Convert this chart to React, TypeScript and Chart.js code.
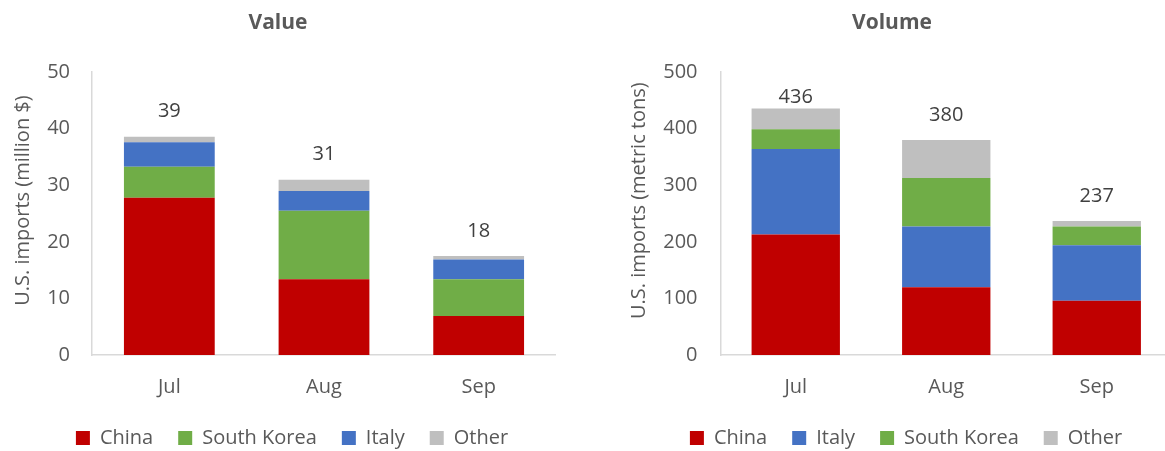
import React, { useEffect, useRef } from "react";
import { Chart, registerables } from "chart.js";

Chart.register(...registerables);

// ---- Data ----
const months = ["Jul", "Aug", "Sep"];

// Value chart (million $)
const valueChina = [27.8, 13.4, 6.9];
const valueSouthKorea = [5.5, 12.1, 6.5];
const valueItaly = [4.3, 3.5, 3.5];
const valueOther = [1.0, 2.0, 0.6];
const valueTotals = [39, 31, 18];
const valueTicks = { min: 0, max: 50, step: 10 };

// Volume chart (metric tons)
const volumeChina = [213, 120, 96];
const volumeItaly = [151, 107, 98];
const volumeSouthKorea = [35, 86, 33];
const volumeOther = [37, 67, 10];
const volumeTotals = [436, 380, 237];
const volumeTicks = { min: 0, max: 500, step: 100 };

// ---- Style ----
const FONT = "'Open Sans', sans-serif";
const TEXT = "#595959";
const AXIS = "#D9D9D9";
const RED = "#C00000";
const GREEN = "#70AD47";
const BLUE = "#4472C4";
const GRAY = "#BFBFBF";

const totalsPlugin = {
  id: "totals",
  afterDatasetsDraw(chart: any, _args: any, opts: any) {
    const labels: number[] = (opts && opts.labels) || [];
    if (!labels.length) return;
    const { ctx, chartArea } = chart;
    ctx.save();
    ctx.font = `20px ${FONT}`;
    ctx.fillStyle = "#404040";
    ctx.textAlign = "center";
    ctx.textBaseline = "middle";
    labels.forEach((lab, j) => {
      let top = Infinity;
      let x = 0;
      chart.data.datasets.forEach((_d: any, i: number) => {
        const el = chart.getDatasetMeta(i).data[j];
        if (el && el.y < top) {
          top = el.y;
          x = el.x;
        }
      });
      const y = Math.max(top - 25, chartArea.top + 25.5);
      ctx.fillText(String(lab), x, y);
    });
    ctx.restore();
  },
};

// Draws the vertical axis title, a little above the plot's middle (as in the reference)
const axisTitlePlugin = {
  id: "axisTitle",
  afterDraw(chart: any, _args: any, opts: any) {
    if (!opts || !opts.text) return;
    const { ctx, chartArea } = chart;
    ctx.save();
    ctx.font = `20px ${FONT}`;
    ctx.fillStyle = TEXT;
    ctx.textAlign = "center";
    ctx.textBaseline = "middle";
    ctx.translate(opts.x, (chartArea.top + chartArea.bottom) / 2 - 13);
    ctx.rotate(-Math.PI / 2);
    ctx.fillText(opts.text, 0, 0);
    ctx.restore();
  },
};

const legendShiftPlugin = {
  id: "legendShift",
  afterLayout(chart: any, _args: any, opts: any) {
    if (chart.legend && opts && opts.shift) {
      chart.legend.left += opts.shift;
    }
  },
};

type PanelProps = {
  title: string;
  yTitle: string;
  series: { label: string; data: number[]; color: string }[];
  totals: number[];
  ticks: { min: number; max: number; step: number };
  left: number;
  width: number;
  yWidth: number;
  yTickPad: number;
  yTitleX: number;
};

function Panel(p: PanelProps) {
  const ref = useRef<HTMLCanvasElement | null>(null);
  useEffect(() => {
    if (!ref.current) return;
    const chart = new Chart(ref.current, {
      type: "bar",
      data: {
        labels: months,
        datasets: p.series.map((s) => ({
          label: s.label,
          data: s.data,
          backgroundColor: s.color,
          borderWidth: 0,
          barPercentage: 0.587,
          categoryPercentage: 1,
        })),
      },
      plugins: [totalsPlugin, axisTitlePlugin, legendShiftPlugin],
      options: {
        responsive: false,
        animation: false,
        events: [],
        layout: { padding: 0 },
        scales: {
          x: {
            stacked: true,
            grid: { display: false, drawTicks: false },
            border: { display: true, color: AXIS, width: 1.5 },
            ticks: { font: { family: FONT, size: 20 }, color: TEXT, padding: 20 },
            afterFit: (s: any) => {
              s.height = 48;
            },
          },
          y: {
            stacked: true,
            min: p.ticks.min,
            max: p.ticks.max,
            grid: { display: false, drawTicks: false },
            border: { display: true, color: AXIS, width: 1.5 },
            ticks: {
              stepSize: p.ticks.step,
              font: { family: FONT, size: 20 },
              color: TEXT,
              padding: p.yTickPad,
            },
            afterFit: (s: any) => {
              s.width = p.yWidth;
            },
          },
        },
        plugins: {
          title: {
            display: true,
            text: p.title,
            font: { family: FONT, size: 21, weight: "bold" },
            color: TEXT,
            padding: { top: 10, bottom: 37 },
          },
          legend: {
            position: "bottom",
            labels: {
              boxWidth: 14,
              boxHeight: 14,
              padding: 25,
              font: { family: FONT, size: 20 },
              color: TEXT,
            },
          },
          tooltip: { enabled: false },
          totals: { labels: p.totals },
          axisTitle: { text: p.yTitle, x: p.yTitleX },
          legendShift: { shift: 28 },
        } as any,
      },
    } as any);
    return () => chart.destroy();
  }, []);
  return (
    <div style={{ position: "absolute", left: p.left, top: 0, width: p.width, height: 458 }}>
      <canvas ref={ref} width={p.width} height={458} style={{ display: "block" }} />
    </div>
  );
}

export default function App() {
  return (
    <div
      style={{
        position: "fixed",
        left: 0,
        top: 0,
        width: 1165,
        height: 451,
        overflow: "hidden",
        background: "#ffffff",
      }}
    >
      <Panel
        title="Value"
        yTitle="U.S. imports (million $)"
        series={[
          { label: "China", data: valueChina, color: RED },
          { label: "South Korea", data: valueSouthKorea, color: GREEN },
          { label: "Italy", data: valueItaly, color: BLUE },
          { label: "Other", data: valueOther, color: GRAY },
        ]}
        totals={valueTotals}
        ticks={valueTicks}
        left={0}
        width={556}
        yWidth={92}
        yTickPad={22}
        yTitleX={23}
      />
      <Panel
        title="Volume"
        yTitle="U.S. imports (metric tons)"
        series={[
          { label: "China", data: volumeChina, color: RED },
          { label: "Italy", data: volumeItaly, color: BLUE },
          { label: "South Korea", data: volumeSouthKorea, color: GREEN },
          { label: "Other", data: volumeOther, color: GRAY },
        ]}
        totals={volumeTotals}
        ticks={volumeTicks}
        left={612}
        width={560}
        yWidth={108.5}
        yTickPad={23}
        yTitleX={27}
      />
    </div>
  );
}
